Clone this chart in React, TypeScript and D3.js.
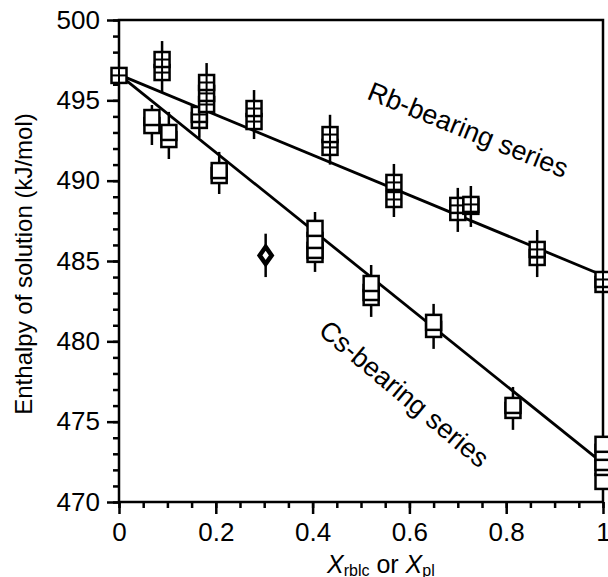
import React, { useEffect, useRef } from 'react';
import * as d3 from 'd3';

// x positions (mole fraction) and replicate enthalpies for each symbol stack
const rbX = [0, 0.089, 0.166, 0.181, 0.279, 0.436, 0.568, 0.7, 0.727, 0.864, 1.0];
const rbValues = [
  [496.55],
  [497.54, 496.73],
  [494.12, 493.75],
  [496.11, 495.43, 494.74],
  [494.49, 493.68],
  [492.87, 492.07],
  [489.89, 488.83],
  [488.46, 488.02],
  [488.52, 488.4],
  [485.72, 485.22],
  [483.85, 483.54],
];
const rbErrHigh = [496.55, 498.69, 494.6, 497.32, 495.64, 494.1, 491.04, 489.55, 489.67, 486.93, 483.85];
const rbErrLow = [496.55, 495.52, 492.66, 494.0, 492.59, 491.0, 487.74, 486.81, 487.12, 484.0, 483.54];

const csX = [0.068, 0.103, 0.207, 0.405, 0.521, 0.65, 0.814, 1.0];
const csValues = [
  [493.93, 493.43],
  [493.0, 492.56],
  [490.63, 490.32],
  [487.03, 486.28, 485.66, 485.41],
  [483.6, 483.04, 482.73],
  [481.18, 480.74],
  [476.01, 475.7],
  [473.59, 473.09, 472.46, 472.15, 471.28],
];
const csErrHigh = [494.71, 494.28, 491.79, 488.05, 484.75, 482.33, 477.16, 473.59];
const csErrLow = [492.22, 491.35, 489.17, 484.32, 481.52, 479.53, 474.49, 471.28];

// odd sample plotted as a diamond
const otherX = [0.303];
const otherValue = [485.35];
const otherErrHigh = [486.7];
const otherErrLow = [484.0];

// regression lines: value at x = 0 and x = 1
const fitX = [0, 1];
const rbFit = [496.6, 484.1];
const csFit = [496.6, 472.4];

const yTicks = [470, 475, 480, 485, 490, 495, 500];
const xTicks = [0, 0.2, 0.4, 0.6, 0.8, 1];

const FONT = '"Liberation Sans", Arial, Helvetica, sans-serif';

export default function App() {
  const ref = useRef<SVGSVGElement>(null);

  useEffect(() => {
    if (!ref.current) return;
    const svg = d3.select(ref.current);
    svg.selectAll('*').remove();

    const x = d3.scaleLinear().domain([0, 1]).range([119, 603]);
    const y = d3.scaleLinear().domain([470, 500]).range([502, 20]);
    const size = 15;
    const sw = 2.5;

    const g = svg.append('g');

    /* axes */
    const styleAxis = (sel: any) => {
      sel.select('.domain').remove();
      sel.selectAll('line').attr('stroke', '#000').attr('stroke-width', sw);
      sel.selectAll('text').attr('fill', '#000').style('font-family', FONT).style('font-size', '26px');
    };

    g.append('g')
      .attr('transform', `translate(${x(0)},0)`)
      .call(d3.axisLeft(y).tickValues(d3.range(470, 501, 1)).tickSize(6).tickFormat(() => ''))
      .call(styleAxis);
    g.append('g')
      .attr('transform', `translate(${x(0)},0)`)
      .call(d3.axisLeft(y).tickValues(yTicks).tickSize(12).tickPadding(7).tickFormat(d3.format('d')))
      .call(styleAxis);

    g.append('g')
      .attr('transform', `translate(0,${y(470)})`)
      .call(d3.axisBottom(x).tickValues(d3.range(0, 1.001, 0.05)).tickSize(6).tickFormat(() => ''))
      .call(styleAxis);
    g.append('g')
      .attr('transform', `translate(0,${y(470)})`)
      .call(d3.axisBottom(x).tickValues(xTicks).tickSize(12).tickPadding(9).tickFormat(d3.format('')))
      .call(styleAxis);

    // frame
    g.append('rect')
      .attr('x', x(0)).attr('y', y(500))
      .attr('width', x(1) - x(0)).attr('height', y(470) - y(500))
      .attr('fill', 'none').attr('stroke', '#000').attr('stroke-width', sw);

    /* fit lines */
    const line = d3.line<number>().x((d, i) => x(fitX[i])).y(d => y(d));
    [rbFit, csFit].forEach(f => {
      g.append('path').attr('d', line(f)).attr('fill', 'none').attr('stroke', '#000').attr('stroke-width', 2.8);
    });

    /* error bars */
    const bars = (xs: number[], hi: number[], lo: number[]) => {
      xs.forEach((xv, i) => {
        g.append('line')
          .attr('x1', x(xv)).attr('x2', x(xv))
          .attr('y1', y(hi[i])).attr('y2', y(lo[i]))
          .attr('stroke', '#000').attr('stroke-width', sw);
      });
    };
    bars(rbX, rbErrHigh, rbErrLow);
    bars(csX, csErrHigh, csErrLow);
    bars(otherX, otherErrHigh, otherErrLow);

    /* squares: drawn from lowest value upward */
    const squares = (xs: number[], vals: number[][], cross: boolean) => {
      xs.forEach((xv, i) => {
        const sorted = [...vals[i]].sort((a, b) => a - b);
        sorted.forEach(v => {
          const cx = x(xv), cy = y(v);
          g.append('rect')
            .attr('x', cx - size / 2).attr('y', cy - size / 2)
            .attr('width', size).attr('height', size)
            .attr('fill', '#fff').attr('stroke', '#000').attr('stroke-width', sw);
          if (cross) {
            g.append('line').attr('x1', cx - size / 2).attr('x2', cx + size / 2)
              .attr('y1', cy).attr('y2', cy).attr('stroke', '#000').attr('stroke-width', 2);
            g.append('line').attr('x1', cx).attr('x2', cx)
              .attr('y1', cy - size / 2).attr('y2', cy + size / 2).attr('stroke', '#000').attr('stroke-width', 2);
          }
        });
      });
    };
    squares(csX, csValues, false);
    squares(rbX, rbValues, true);

    otherX.forEach((xv, i) => {
      const cx = x(xv), cy = y(otherValue[i]);
      g.append('path')
        .attr('d', `M${cx},${cy - 8.5}L${cx + 6},${cy}L${cx},${cy + 8.5}L${cx - 6},${cy}Z`)
        .attr('fill', '#fff').attr('stroke', '#000').attr('stroke-width', 4.5);
    });

    /* series labels */
    g.append('text')
      .attr('transform', 'translate(468,130) rotate(22)')
      .attr('text-anchor', 'middle').attr('dominant-baseline', 'central')
      .style('font-family', FONT).style('font-size', '27px')
      .text('Rb-bearing series');
    g.append('text')
      .attr('transform', 'translate(404,394) rotate(40)')
      .attr('text-anchor', 'middle').attr('dominant-baseline', 'central')
      .style('font-family', FONT).style('font-size', '27px')
      .text('Cs-bearing series');

    /* axis titles */
    g.append('text')
      .attr('transform', `translate(32,${(y(470) + y(500)) / 2 + 3}) rotate(-90)`)
      .attr('text-anchor', 'middle')
      .style('font-family', FONT).style('font-size', '24px')
      .text('Enthalpy of solution (kJ/mol)');

    const t = g.append('text')
      .attr('x', 327).attr('y', 573)
      .style('font-family', FONT).style('font-size', '25px');
    t.append('tspan').style('font-style', 'italic').text('X');
    t.append('tspan').attr('dy', 3).style('font-size', '16px').text('rblc');
    t.append('tspan').attr('dy', -3).text(' or ');
    t.append('tspan').style('font-style', 'italic').text('X');
    t.append('tspan').attr('dy', 3).style('font-size', '16px').text('pl');
  }, []);

  return (
    <svg
      ref={ref}
      width={608}
      height={577}
      style={{ position: 'absolute', left: 0, top: 0, background: '#fff' }}
    />
  );
}
